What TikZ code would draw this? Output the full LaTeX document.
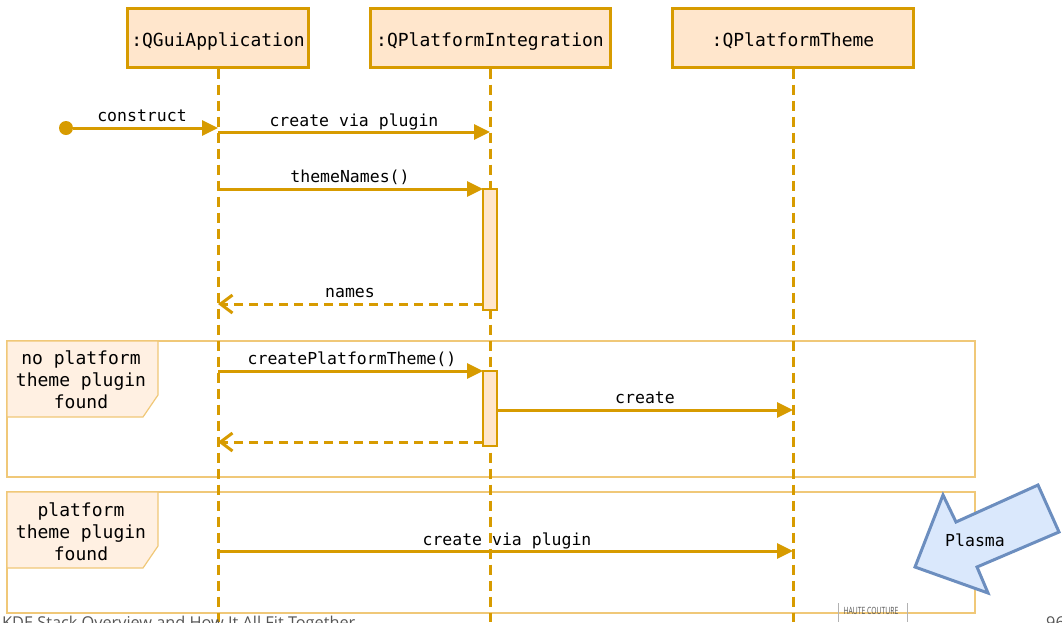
\documentclass[tikz,border=0pt]{standalone}
\usepackage{fontspec}
\setmonofont{DejaVu Sans Mono}
\setsansfont{Open Sans}
\usetikzlibrary{arrows.meta}
\definecolor{gold}{HTML}{D79B00}
\definecolor{peach}{HTML}{FFE6CC}
\definecolor{framegold}{HTML}{F0C878}
\definecolor{framefill}{HTML}{FFF0E2}
\definecolor{plasmafill}{HTML}{DAE8FC}
\definecolor{plasmaline}{HTML}{6C8EBF}
\definecolor{footgray}{HTML}{555555}
\begin{document}
\begin{tikzpicture}[x=1pt,y=-1pt,
  lifehead/.style={draw=gold, line width=3pt, fill=peach, minimum height=59pt,
    inner sep=0pt, text height=19pt, text depth=2pt,
    font=\fontsize{18}{22}\selectfont\ttfamily},
  lifeline/.style={draw=gold, line width=3pt, dash pattern=on 10pt off 6pt},
  activation/.style={draw=gold, line width=2.5pt, fill=peach, minimum width=14pt,
    inner sep=0pt, outer sep=0pt},
  call/.style={draw=gold, line width=3pt, -{Triangle[length=16pt,width=15pt]}},
  reply/.style={draw=gold, line width=3pt, dash pattern=on 9pt off 6pt,
    -{Straight Barb[length=12pt,width=18pt,line width=3pt]}},
  msglabel/.style={anchor=base, inner sep=0pt, font=\fontsize{16.5}{20}\selectfont\ttfamily},
  frame/.style={draw=framegold, line width=1.2pt, anchor=north west, outer sep=0pt,
    inner sep=0pt, minimum width=968pt},
  framelabel/.style={draw=framegold, line width=1.2pt, fill=framefill},
  guard/.style={align=center, inner sep=0pt, font=\fontsize{18}{22}\selectfont\ttfamily},
  dot/.style={circle, fill=gold, minimum size=14pt, inner sep=0pt},
  plasma/.style={draw=plasmaline, line width=3pt, fill=plasmafill, line join=miter},
  foot/.style={inner sep=0pt, text=footgray, font=\fontsize{16.3}{18}\selectfont\sffamily},
]
\useasboundingbox (0,0) rectangle (1062,622);
\coordinate (bottom) at (0,622);

% combined fragments
\node[frame, minimum height=136pt] (alt1) at (7,341) {};
\draw[framelabel] (alt1.north west) -- ++(151,0) -- ++(0,54) -- ++(-15,22) -- ++(-136,0) -- cycle;
\node[guard] (g1) at (81,380) {no platform\\theme plugin\\found};

\node[frame, minimum height=121pt] (alt2) at (7,492) {};
\draw[framelabel] (alt2.north west) -- ++(151,0) -- ++(0,54) -- ++(-15,22) -- ++(-136,0) -- cycle;
\node[guard] (g2) at (81,532) {platform\\theme plugin\\found};

% participants and lifelines
\node[lifehead, minimum width=181pt] (gui) at (218,37.5) {:QGuiApplication};
\node[lifehead, minimum width=240pt] (qpi) at (490,37.5) {:QPlatformIntegration};
\node[lifehead, minimum width=241pt] (qpt) at (793,37.5) {:QPlatformTheme};
\draw[lifeline] (gui.south) -- (gui.south |- bottom);
\draw[lifeline] (qpi.south) -- (qpi.south |- bottom);
\draw[lifeline] (qpt.south) -- (qpt.south |- bottom);

% activations
\node[activation, minimum height=121pt] (act1) at (490,249.5) {};
\node[activation, minimum height=75pt] (act2) at (490,408.5) {};

% messages
\node[dot] (init) at (66,128) {};
\draw[call] (init) -- (gui |- init);
\node[msglabel] (lconstruct) at (142,121) {construct};

\coordinate (m1) at (218,132);
\draw[call] (m1) -- (qpi |- m1);
\node[msglabel] (lplugin1) at (354,126) {create via plugin};

\draw[call] (gui |- act1.north) -- (act1.north west);
\node[msglabel] (lnames) at (350,182) {themeNames()};

\path ([yshift=6pt]act1.south west) coordinate (r1);
\draw[reply] (r1) -- (gui |- r1);
\node[msglabel] (lret) at (350,297) {names};

\draw[call] (gui |- act2.north) -- (act2.north west);
\node[msglabel] (lcpt) at (352,364) {createPlatformTheme()};

\path (act2.east) ++(0,1.5) coordinate (m2);
\draw[call] (m2) -- (qpt |- m2);
\node[msglabel] (lcreate) at (645,403) {create};

\path ([yshift=4pt]act2.south west) coordinate (r2);
\draw[reply] (r2) -- (gui |- r2);

\coordinate (m3) at (218,551);
\draw[call] (m3) -- (qpt |- m3);
\node[msglabel] (lplugin2) at (507,545) {create via plugin};

% Plasma callout arrow
\draw[plasma] (915,567) -- (943,495) -- (956,522) -- (1038,485) -- (1059,532)
  -- (977,567) -- (988,593) -- cycle;
\node[msglabel, anchor=center] (lplasma) at (975,540) {Plasma};

% footer
\node[foot, anchor=base west] (ftitle) at (2,628) {KDE Stack Overview and How It All Fit Together};
\draw[gray!60, line width=0.6pt] (838,603) -- (838,622);
\draw[gray!60, line width=0.6pt] (907,603) -- (907,622);
\node[anchor=base, inner sep=0pt, text=footgray, xscale=0.68,
  font=\fontsize{10}{11}\selectfont\sffamily] (fbrand) at (871,614) {HAUTE COUTURE};
\node[foot, anchor=base west] (fpage) at (1046,628) {96};
\end{tikzpicture}
\end{document}
